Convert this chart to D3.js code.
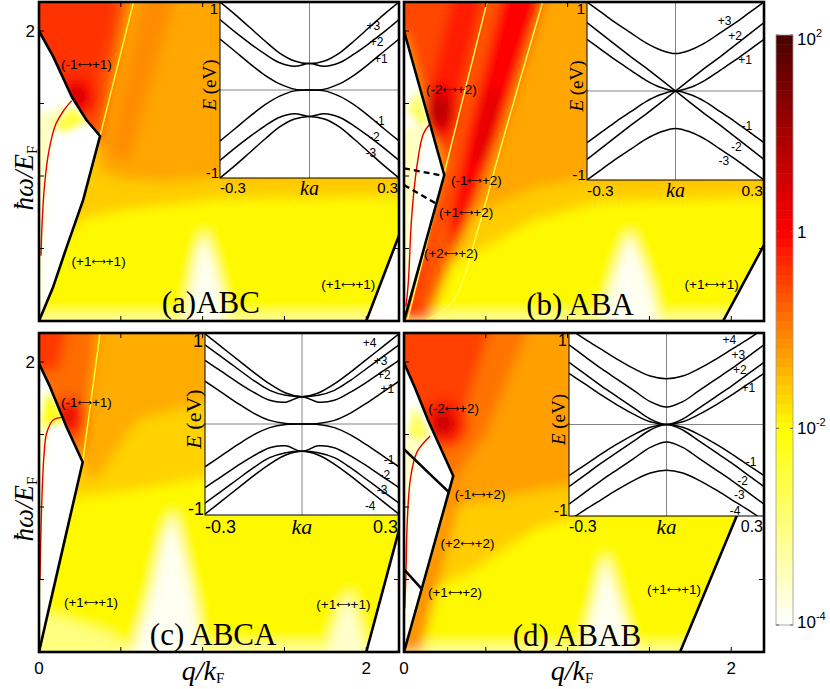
<!DOCTYPE html>
<html>
<head>
<meta charset="utf-8">
<script src="https://cdn.jsdelivr.net/npm/d3@7"></script>
<style>
  body { margin: 0; background: #fff; }
  svg { display: block; }
</style>
</head>
<body>
<svg id="chart"></svg>
<script>
// ---------------- axes / ticks ----------------
const qTicks = [0.5, 1, 1.5, 2];
const wTicks = [0.5, 1, 1.5, 2];
const kaNodes = [0, 0.05, 0.1, 0.15, 0.2, 0.25, 0.3];
const cbTicks = [-4, -2, 0, 2];
const panelNames = ['(a)ABC', '(b) ABA', '(c) ABCA', '(d) ABAB'];
const panelNameAt = [[1.05, 0.055], [1.076, 0.04], [1.064, 0.05], [1.057, 0.04]];

// ---------------- insets: conduction bands +1,+2,... (E in eV at kaNodes) ----------------
const bandsABC = [
  [0, 0.01, 0.07, 0.17, 0.30, 0.44, 0.58],
  [0.30, 0.27, 0.31, 0.41, 0.53, 0.66, 0.80],
  [0.30, 0.33, 0.42, 0.56, 0.71, 0.86, 1.00]
];
const bandsABA = [
  [0, 0.04, 0.12, 0.23, 0.34, 0.46, 0.58],
  [0, 0.13, 0.26, 0.38, 0.51, 0.64, 0.77],
  [0.42, 0.46, 0.54, 0.65, 0.76, 0.88, 1.00]
];
const bandsABCA = [
  [0, 0.005, 0.04, 0.12, 0.23, 0.35, 0.47],
  [0.30, 0.24, 0.26, 0.35, 0.46, 0.58, 0.70],
  [0.30, 0.315, 0.37, 0.48, 0.61, 0.74, 0.87],
  [0.30, 0.34, 0.44, 0.57, 0.71, 0.85, 0.99]
];
const bandsABAB = [
  [0, 0.03, 0.11, 0.21, 0.32, 0.44, 0.56],
  [0, 0.06, 0.18, 0.30, 0.42, 0.55, 0.68],
  [0.19, 0.25, 0.37, 0.49, 0.61, 0.74, 0.87],
  [0.50, 0.53, 0.61, 0.71, 0.82, 0.93, 1.05]
];
const straightABA = [1];   // the monolayer-like cone

const bandLabelsABC = [['+3', 0.214, 0.73], ['+2', 0.225, 0.55], ['+1', 0.239, 0.35],
  ['-1', 0.234, -0.345], ['-2', 0.217, -0.535], ['-3', 0.206, -0.71]];
const bandLabelsABA = [['+3', 0.166, 0.785], ['+2', 0.202, 0.615], ['+1', 0.236, 0.35],
  ['-1', 0.242, -0.39], ['-2', 0.206, -0.63], ['-3', 0.164, -0.78]];
const bandLabelsABCA = [['+4', 0.209, 0.89], ['+3', 0.243, 0.69], ['+2', 0.253, 0.54], ['+1', 0.264, 0.39],
  ['-1', 0.269, -0.395], ['-2', 0.256, -0.56], ['-3', 0.248, -0.725], ['-4', 0.211, -0.9]];
const bandLabelsABAB = [['+4', 0.193, 0.93], ['+3', 0.221, 0.76], ['+2', 0.226, 0.60], ['+1', 0.252, 0.40],
  ['-1', 0.26, -0.41], ['-2', 0.234, -0.61], ['-3', 0.224, -0.77], ['-4', 0.211, -0.94]];

// ---------------- loss maps: regions [log10 value, polygon in (q/kF, hw/EF)] ----------------
const fieldABC = [
  [-1.95, [[-0.3, -0.3], [2.5, -0.3], [2.5, 2.5], [-0.3, 2.5]]],
  [-3.2, [[-0.3, -0.3], [2.5, -0.3], [2.5, 0.05], [-0.3, 0.05]]],
  [-3.9, [[0.88, -0.3], [1.16, -0.3], [1.12, 0.2], [1.06, 0.45], [1.01, 0.62], [0.96, 0.45], [0.92, 0.2]]],
  [-1.6, [[-0.3, 0.2], [0.3, 0.72], [0.6, 0.78], [1.1, 0.84], [2.5, 0.86], [2.5, 2.5], [-0.3, 2.5]]],
  [-1.3, [[0.36, 1.05], [0.5, 0.98], [0.8, 0.96], [1.1, 1.0], [2.5, 1.02], [2.5, 2.5], [0.45, 2.5]]],
  [-1.1, [[0.42, 1.15], [0.55, 1.1], [0.9, 2.5], [0.68, 2.5]]],
  [-0.6, [[-0.3, 1.3], [0.2, 1.35], [0.373, 1.2], [0.6, 2.5], [-0.3, 2.5]]],
  [-0.4, [[-0.3, 1.7], [0.15, 1.6], [0.3, 1.45], [0.45, 2.0], [0.5, 2.5], [-0.3, 2.5]]]
];
const blobsABC = [[0.24, 1.55, 0.12, 0.14, -0.1], [0.23, 1.55, 0.06, 0.08, 0.5]];
const streaksABC = [[-2.4, [[0.373, 1.276], [0.6, 2.3]]]];

const fieldABA = [
  [-1.95, [[-0.3, -0.3], [2.5, -0.3], [2.5, 2.5], [-0.3, 2.5]]],
  [-3.2, [[-0.3, -0.3], [2.5, -0.3], [2.5, 0.05], [-0.3, 0.05]]],
  [-3.9, [[1.16, -0.3], [1.6, -0.3], [1.52, 0.2], [1.44, 0.45], [1.38, 0.62], [1.32, 0.45], [1.25, 0.2]]],
  [-1.6, [[-0.3, 0.1], [0.4, 0.45], [0.8, 0.7], [1.2, 0.82], [2.5, 0.86], [2.5, 2.5], [-0.3, 2.5]]],
  [-1.3, [[-0.3, 0.4], [0.45, 0.75], [0.8, 0.92], [1.1, 0.98], [2.5, 1.0], [2.5, 2.5], [-0.3, 2.5]]],
  [-0.7, [[0.02, 0], [0.15, 0], [0.3, 0.45], [0.4, 0.7], [0.59, 1.29], [0.85, 2.21], [0.9, 2.5], [0.53, 2.5]]],
  [-0.55, [[-0.3, 1.5], [0.0, 2.0], [0.15, 1.4], [0.26, 1.05], [0.55, 2.5], [-0.3, 2.5]]],
  [-0.35, [[-0.05, 0], [0.24, 1.0], [0.28, 1.05], [0.06, 0]]],
  [-0.2, [[0.12, 1.45], [0.24, 1.15], [0.3, 1.35], [0.55, 2.5], [0.35, 2.5]]],
  [0.0, [[0.27, 0.7], [0.38, 1.29], [0.59, 2.21], [0.61, 2.5], [0.88, 2.5], [0.85, 2.21], [0.59, 1.29], [0.4, 0.7], [0.3, 0.45]]],
  [0.35, [[0.42, 1.1], [0.5, 1.1], [0.6, 1.6], [0.52, 1.6]]]
];
const blobsABA = [[0.22, 1.45, 0.11, 0.2, 0.15], [0.22, 1.45, 0.06, 0.11, 0.8]];
const streaksABA = [
  [-2.7, [[0.02, 0], [0.53, 2.3]]],
  [-2.7, [[0.13, 0], [0.3, 0.14], [0.444, 0.6], [0.587, 1.18], [0.85, 2.21], [0.875, 2.3]]]
];

const fieldABCA = [
  [-1.95, [[-0.3, -0.3], [2.5, -0.3], [2.5, 2.5], [-0.3, 2.5]]],
  [-3.2, [[-0.3, -0.3], [2.5, -0.3], [2.5, 0.06], [-0.3, 0.06]]],
  [-3.0, [[-0.3, -0.3], [0.55, -0.3], [0.45, 0.12], [0.1, 0.25], [-0.3, 0.3]]],
  [-3.9, [[0.56, -0.3], [1.02, -0.3], [0.96, 0.3], [0.88, 0.7], [0.82, 0.97], [0.76, 0.8], [0.68, 0.4], [0.6, 0.1]]],
  [-3.6, [[1.74, -0.3], [2.0, -0.3], [1.97, 0.15], [1.9, 0.42], [1.84, 0.3], [1.78, 0.1]]],
  [-1.65, [[-0.3, 1.0], [0.5, 1.1], [1.0, 1.2], [2.5, 1.25], [2.5, 2.5], [-0.3, 2.5]]],
  [-1.35, [[0.267, 1.2], [0.36, 1.2], [0.6, 1.6], [1.0, 1.72], [2.5, 1.8], [2.5, 2.5], [0.3, 2.5]]],
  [-0.85, [[-0.3, 1.4], [0.15, 1.45], [0.267, 1.31], [0.38, 2.5], [-0.3, 2.5]]],
  [-0.45, [[-0.3, 1.9], [0.12, 1.95], [0.22, 2.5], [-0.3, 2.5]]]
];
const blobsABCA = [[0.19, 1.62, 0.1, 0.14, -0.3], [0.18, 1.63, 0.05, 0.07, 0.35]];
const streaksABCA = [[-2.4, [[0.267, 1.31], [0.385, 2.3]]]];

const fieldABAB = [
  [-1.95, [[-0.3, -0.3], [2.5, -0.3], [2.5, 2.5], [-0.3, 2.5]]],
  [-3.2, [[-0.3, -0.3], [2.5, -0.3], [2.5, 0.05], [-0.3, 0.05]]],
  [-3.9, [[1.06, -0.3], [1.44, -0.3], [1.41, 0.0], [1.23, 0.68], [1.086, 0.0]]],
  [-1.6, [[-0.3, 0.2], [0.4, 0.55], [0.8, 0.85], [1.2, 0.98], [2.5, 1.0], [2.5, 2.5], [-0.3, 2.5]]],
  [-1.25, [[-0.3, 0.9], [0.5, 1.05], [1.0, 1.15], [2.5, 1.2], [2.5, 2.5], [-0.3, 2.5]]],
  [-0.9, [[-0.3, 1.2], [0.31, 1.2], [0.5, 1.5], [0.85, 2.5], [-0.3, 2.5]]],
  [-0.5, [[-0.3, 1.65], [0.15, 1.6], [0.3, 1.4], [0.6, 2.5], [-0.3, 2.5]]],
  [-1.1, [[-0.05, 0.0], [0.3, 1.2], [0.36, 1.15], [0.1, 0.0]]]
];
const blobsABAB = [[0.25, 1.58, 0.14, 0.17, -0.2], [0.24, 1.58, 0.07, 0.09, 0.55]];
const streaksABAB = [];

// ---------------- boundaries of the empty (zero-loss) regions ----------------
const edgesABC = [
  [[0, 2.0], [0.087, 1.823], [0.2, 1.547], [0.29, 1.386], [0.373, 1.276], [0.27, 0.835], [0.17, 0.513], [0.087, 0.237], [0, 0]],
  [[2.0, 0], [2.2, 0.59], [2.4, 1.19]]
];
const edgesABA = [
  [[0, 2.0], [0.246, 1.007], [0, 0]],
  [[1.95, 0], [2.2, 0.524], [2.4, 0.944]]
];
const edgesABCA = [
  [[0, 1.99], [0.067, 1.83], [0.169, 1.55], [0.267, 1.31], [0.169, 0.83], [0.067, 0.33], [0, 0]],
  [[2.0, 0], [2.2, 0.84], [2.4, 1.68]]
];
const edgesABAB = [
  [[0, 1.995], [0.067, 1.823], [0.149, 1.593], [0.301, 1.214], [0.149, 0.6], [0, 0]],
  [[1.687, 0], [2.03, 0.93], [2.4, 1.93]],
  [[0, 1.398], [0.149, 1.237], [0.271, 1.106]],
  [[0, 0.57], [0.108, 0.435]]
];
const dashesABA = [[[0, 1.053], [0.246, 1.0]], [[0, 0.938], [0.2, 0.807]]];

// plasmon branches
const plasmonABC = [[0.012, 0.45], [0.02, 0.7], [0.035, 0.95], [0.06, 1.17], [0.1, 1.35], [0.15, 1.45], [0.2, 1.52]];
const plasmonABA = [[0.012, 0.1], [0.026, 0.26], [0.047, 0.72], [0.078, 1.06], [0.118, 1.29], [0.159, 1.36]];
const plasmonABCA = [[0.006, 0.5], [0.016, 1.0], [0.03, 1.35], [0.047, 1.51], [0.087, 1.6], [0.149, 1.62]];
const plasmonABAB = [[0.005, 0.3], [0.012, 0.55], [0.02, 0.9], [0.04, 1.2], [0.08, 1.38], [0.16, 1.49]];

// weak loss inside the empty wedge
const glowABC = [
  [-3.5, [[-0.3, -0.1], [0, -0.1], [0.02, 0.45], [0.035, 0.95], [0.06, 1.17], [0.1, 1.35], [0.2, 1.52], [0.08, 1.45], [-0.3, 1.35]]],
  [-2.5, [[0.08, 1.35], [0.2, 1.48], [0.3, 1.38], [0.15, 1.3]]]
];
const glowABA = [
  [-3.5, [[-0.3, -0.1], [0.005, -0.1], [0.026, 0.26], [0.047, 0.72], [0.078, 1.06], [0.118, 1.29], [0.159, 1.36], [0.06, 1.35], [-0.3, 1.2]]],
  [-2.8, [[0.02, 1.45], [0.1, 1.35], [0.16, 1.36], [0.08, 1.6]]]
];
const glowABCA = [
  [-3.5, [[-0.3, -0.1], [0, -0.1], [0.006, 0.5], [0.016, 1.0], [0.03, 1.35], [0.047, 1.51], [0.087, 1.6], [0.149, 1.62], [0.05, 1.65], [-0.3, 1.6]]],
  [-2.2, [[0.0, 1.55], [0.1, 1.57], [0.17, 1.6], [0.05, 1.8]]]
];
const glowABAB = [
  [-3.5, [[-0.3, -0.1], [0, -0.1], [0.005, 0.3], [0.012, 0.55], [0.02, 0.9], [0.04, 1.2], [0.08, 1.38], [0.16, 1.49], [0.05, 1.45], [-0.3, 1.4]]],
  [-2.7, [[0.02, 1.48], [0.1, 1.46], [0.16, 1.5], [0.06, 1.7]]]
];

// transition labels [left band, right band, q, w]
const transABC = [['(-1', '+1)', 0.29, 1.77], ['(+1', '+1)', 0.364, 0.414], ['(+1', '+1)', 1.89, 0.255]];
const transABA = [['(-2', '+2)', 0.29, 1.6], ['(-1', '+2)', 0.443, 0.97], ['(+1', '+2)', 0.38, 0.75],
  ['(+2', '+2)', 0.287, 0.47], ['(+1', '+1)', 1.88, 0.255]];
const transABCA = [['(-1', '+1)', 0.29, 1.72], ['(+1', '+1)', 0.318, 0.34], ['(+1', '+1)', 1.86, 0.33]];
const transABAB = [['(-2', '+2)', 0.303, 1.68], ['(-1', '+2)', 0.465, 1.09], ['(+2', '+2)', 0.388, 0.75],
  ['(+1', '+2)', 0.312, 0.41], ['(+1', '+1)', 1.65, 0.434]];

// ---------------- drawing ----------------
const W = 830, H = 689;
const serif = '"Liberation Serif", "Times New Roman", serif';
const sans = '"Liberation Sans", Arial, sans-serif';

const svg = d3.select('#chart').attr('width', W).attr('height', H);
const defs = svg.append('defs');
const addBlur = (id, s) => defs.append('filter').attr('id', id)
  .attr('filterUnits', 'userSpaceOnUse').attr('x', -50).attr('y', -50).attr('width', W + 100).attr('height', H + 100)
  .append('feGaussianBlur').attr('stdDeviation', s);
addBlur('soft', 6);
addBlur('glow', 3.5);
addBlur('thin', 0.6);

const cmap = d3.scaleLinear().domain([-4, -2, 0, 2])
  .range(['#ffffff', '#ffff00', '#ff0000', '#4a0000']).clamp(true);

const panels = [
  { left: 39, top: 2, bottom: 321, field: fieldABC, blobs: blobsABC, streaks: streaksABC, edges: edgesABC, dashes: [],
    plasmon: plasmonABC, glow: glowABC, trans: transABC,
    inset: { left: 220, bottom: 178, bands: bandsABC, straight: [], labels: bandLabelsABC, tick: 15, efont: 19, kfont: 20 } },
  { left: 404, top: 2, bottom: 321, field: fieldABA, blobs: blobsABA, streaks: streaksABA, edges: edgesABA, dashes: dashesABA,
    plasmon: plasmonABA, glow: glowABA, trans: transABA,
    inset: { left: 587, bottom: 180, bands: bandsABA, straight: straightABA, labels: bandLabelsABA, tick: 15.5, efont: 19, kfont: 20 } },
  { left: 39, top: 333, bottom: 652, field: fieldABCA, blobs: blobsABCA, streaks: streaksABCA, edges: edgesABCA, dashes: [],
    plasmon: plasmonABCA, glow: glowABCA, trans: transABCA,
    inset: { left: 205, bottom: 515, bands: bandsABCA, straight: [], labels: bandLabelsABCA, tick: 18, efont: 22, kfont: 22 } },
  { left: 404, top: 333, bottom: 652, field: fieldABAB, blobs: blobsABAB, streaks: streaksABAB, edges: edgesABAB, dashes: [],
    plasmon: plasmonABAB, glow: glowABAB, trans: transABAB,
    inset: { left: 569, bottom: 516, bands: bandsABAB, straight: [], labels: bandLabelsABAB, tick: 16, efont: 19, kfont: 21 } }
];

panels.forEach((p, i) => {
  const right = p.left + 360;
  const x = d3.scaleLinear().domain([0, 2.2]).range([p.left, right]);
  const y = d3.scaleLinear().domain([0, 2.2]).range([p.bottom, p.top]);
  const poly = d3.line().x(d => x(d[0])).y(d => y(d[1]));
  const smooth = d3.line().x(d => x(d[0])).y(d => y(d[1])).curve(d3.curveCatmullRom);

  defs.append('clipPath').attr('id', 'pc' + i).append('rect')
    .attr('x', p.left).attr('y', p.top).attr('width', 360).attr('height', p.bottom - p.top);
  const g = svg.append('g').attr('clip-path', `url(#pc${i})`);

  // smooth colour field
  const soft = g.append('g').attr('filter', 'url(#soft)');
  p.field.forEach(([v, pts]) => soft.append('path').attr('d', poly(pts) + 'Z').attr('fill', cmap(v)));
  p.blobs.forEach(([cx, cy, rx, ry, v]) => soft.append('ellipse')
    .attr('cx', x(cx)).attr('cy', y(cy))
    .attr('rx', x(rx) - x(0)).attr('ry', y(0) - y(ry))
    .attr('fill', cmap(v)));

  // thin pale ridges
  p.streaks.forEach(([v, pts]) => g.append('path').attr('d', smooth(pts))
    .attr('fill', 'none').attr('stroke', cmap(v)).attr('stroke-width', 1.4).attr('filter', 'url(#thin)'));

  // empty regions
  const wedge = p.edges[0].concat([[-0.3, -0.3], [-0.3, 2.0]]);
  const e1 = p.edges[1];
  const rightVoid = e1.concat([[2.5, e1[e1.length - 1][1]], [2.5, -0.3], [e1[0][0], -0.3]]);
  g.append('path').attr('d', poly(rightVoid) + 'Z').attr('fill', '#fff');
  g.append('path').attr('d', poly(wedge) + 'Z').attr('fill', '#fff');

  defs.append('clipPath').attr('id', 'vc' + i).append('path').attr('d', poly(wedge) + 'Z');
  const gw = g.append('g').attr('clip-path', `url(#vc${i})`).append('g').attr('filter', 'url(#glow)');
  p.glow.forEach(([v, pts]) => gw.append('path').attr('d', poly(pts) + 'Z').attr('fill', cmap(v)));

  // plasmon
  g.append('path').attr('d', smooth(p.plasmon)).attr('fill', 'none')
    .attr('stroke', '#e40000').attr('stroke-width', 1.4);

  // boundaries
  p.edges.forEach(pts => g.append('path').attr('d', poly(pts)).attr('fill', 'none')
    .attr('stroke', '#000').attr('stroke-width', 2.6).attr('stroke-linejoin', 'round').attr('stroke-linecap', 'round'));
  p.dashes.forEach(pts => g.append('path').attr('d', poly(pts)).attr('fill', 'none')
    .attr('stroke', '#000').attr('stroke-width', 2.4).attr('stroke-dasharray', '6 4'));

  // transition labels
  p.trans.forEach(([a, b, q, w]) => {
    const t = svg.append('text').attr('x', x(q)).attr('y', y(w)).attr('dy', '0.35em').attr('text-anchor', 'middle')
      .style('font-family', sans).style('font-size', '13.5px');
    t.append('tspan').text(a);
    t.append('tspan').attr('dy', -1).style('font-family', '"DejaVu Sans", sans-serif').style('font-size', '10px').text('⟷');
    t.append('tspan').attr('dy', 1).text(b);
  });

  // panel name
  svg.append('text').attr('x', x(panelNameAt[i][0])).attr('y', y(panelNameAt[i][1]))
    .attr('text-anchor', 'middle').style('font-family', serif).style('font-size', '31px')
    .text(panelNames[i]);

  // ticks on all four sides
  const tk = svg.append('g').attr('stroke', '#000').attr('stroke-width', 1);
  qTicks.forEach(t => {
    tk.append('line').attr('x1', x(t)).attr('x2', x(t)).attr('y1', p.bottom).attr('y2', p.bottom - 5);
    tk.append('line').attr('x1', x(t)).attr('x2', x(t)).attr('y1', p.top).attr('y2', p.top + 5);
  });
  wTicks.forEach(t => {
    tk.append('line').attr('x1', p.left).attr('x2', p.left + 5).attr('y1', y(t)).attr('y2', y(t));
    tk.append('line').attr('x1', right).attr('x2', right - 5).attr('y1', y(t)).attr('y2', y(t));
  });

  // ---- inset: band structure ----
  const ins = p.inset;
  const ix = d3.scaleLinear().domain([-0.3, 0.3]).range([ins.left, right]);
  const iy = d3.scaleLinear().domain([-1, 1]).range([ins.bottom, p.top]);
  const ig = svg.append('g');
  ig.append('rect').attr('x', ins.left).attr('y', p.top).attr('width', right - ins.left)
    .attr('height', ins.bottom - p.top).attr('fill', '#fff');
  ig.append('line').attr('x1', ix(0)).attr('x2', ix(0)).attr('y1', iy(-1)).attr('y2', iy(1))
    .attr('stroke', '#777').attr('stroke-width', 0.9);
  ig.append('line').attr('x1', ix(-0.3)).attr('x2', ix(0.3)).attr('y1', iy(0)).attr('y2', iy(0))
    .attr('stroke', '#777').attr('stroke-width', 0.9);

  defs.append('clipPath').attr('id', 'ic' + i).append('rect')
    .attr('x', ins.left).attr('y', p.top).attr('width', right - ins.left).attr('height', ins.bottom - p.top);
  const bg = ig.append('g').attr('clip-path', `url(#ic${i})`);
  const curved = d3.line().x(d => ix(d[0])).y(d => iy(d[1])).curve(d3.curveCatmullRom);
  const straight = d3.line().x(d => ix(d[0])).y(d => iy(d[1]));
  ins.bands.forEach((E, b) => {
    const half = kaNodes.map((k, j) => [k, E[j]]);
    const full = half.slice(1).reverse().map(([k, e]) => [-k, e]).concat(half);
    const gen = ins.straight.includes(b) ? straight : curved;
    [1, -1].forEach(s => bg.append('path').attr('d', gen(full.map(([k, e]) => [k, s * e])))
      .attr('fill', 'none').attr('stroke', '#000').attr('stroke-width', 1.5));
  });
  ins.labels.forEach(([t, k, e]) => ig.append('text').attr('x', ix(k)).attr('y', iy(e)).attr('dy', '0.35em')
    .attr('text-anchor', 'middle').style('font-family', sans).style('font-size', '12px').text(t));
  ig.append('rect').attr('x', ins.left).attr('y', p.top).attr('width', right - ins.left)
    .attr('height', ins.bottom - p.top).attr('fill', 'none').attr('stroke', '#000').attr('stroke-width', 1);

  // inset tick labels
  const fs = ins.tick + 'px';
  ig.append('text').attr('x', ins.left - 2).attr('y', p.top + ins.tick * 0.8).attr('text-anchor', 'end')
    .style('font-family', sans).style('font-size', fs).text('1');
  ig.append('text').attr('x', ins.left - 1).attr('y', ins.bottom).attr('text-anchor', 'end')
    .style('font-family', sans).style('font-size', fs).text('-1');
  ig.append('text').attr('x', ins.left).attr('y', ins.bottom + ins.tick).attr('text-anchor', 'start')
    .style('font-family', sans).style('font-size', fs).text('-0.3');
  ig.append('text').attr('x', right - 1).attr('y', ins.bottom + ins.tick).attr('text-anchor', 'end')
    .style('font-family', sans).style('font-size', fs).text('0.3');
  ig.append('text').attr('x', ix(0)).attr('y', ins.bottom + ins.kfont * 0.85).attr('text-anchor', 'middle')
    .style('font-family', serif).style('font-style', 'italic').style('font-size', ins.kfont + 'px').text('ka');
  const el = ig.append('text')
    .attr('transform', `translate(${ins.left - 4},${(p.top + ins.bottom) / 2 - 5}) rotate(-90)`)
    .attr('text-anchor', 'middle').style('font-family', serif).style('font-size', ins.efont + 'px');
  el.append('tspan').style('font-style', 'italic').text('E');
  el.append('tspan').text(' (eV)');

  // frame
  svg.append('rect').attr('x', p.left).attr('y', p.top).attr('width', 360).attr('height', p.bottom - p.top)
    .attr('fill', 'none').attr('stroke', '#000').attr('stroke-width', 2.6);

  // axis numbers
  if (i % 2 === 0) {
    svg.append('text').attr('x', 35).attr('y', y(2) + 6).attr('text-anchor', 'end')
      .style('font-family', sans).style('font-size', '17px').text('2');
  }
  if (i >= 2) {
    [0, 2].forEach(t => svg.append('text').attr('x', x(t)).attr('y', 674).attr('text-anchor', 'middle')
      .style('font-family', sans).style('font-size', '17px').text(t));
  }
});

// axis titles
[178, 509].forEach(yc => {
  const t = svg.append('text').attr('transform', `translate(33,${yc}) rotate(-90)`)
    .attr('text-anchor', 'middle').style('font-family', serif).style('font-size', '27px');
  t.append('tspan').style('font-style', 'italic').text('ħω/E');
  t.append('tspan').attr('dy', 4).style('font-size', '15px').text('F');
});
[203, 572].forEach(xc => {
  const t = svg.append('text').attr('x', xc).attr('y', 680)
    .attr('text-anchor', 'middle').style('font-family', serif).style('font-size', '28px');
  t.append('tspan').style('font-style', 'italic').text('q/k');
  t.append('tspan').attr('dy', 3).style('font-size', '15px').text('F');
});

// ---------------- colour bar ----------------
const cbY = d3.scaleLinear().domain([-4, 2]).range([625, 35]);
const cb = svg.append('g');
const nLevels = 64;
d3.range(nLevels).forEach(s => {
  const v0 = -4 + 6 * s / nLevels, v1 = -4 + 6 * (s + 1) / nLevels;
  cb.append('rect').attr('x', 776).attr('width', 17).attr('y', cbY(v1)).attr('height', cbY(v0) - cbY(v1) + 0.5)
    .attr('fill', cmap((v0 + v1) / 2));
});
cb.append('rect').attr('x', 776).attr('y', 35).attr('width', 17).attr('height', 590)
  .attr('fill', 'none').attr('stroke', '#999').attr('stroke-width', 0.8);
cbTicks.forEach(v => {
  cb.append('line').attr('x1', 776).attr('x2', 779).attr('y1', cbY(v)).attr('y2', cbY(v)).attr('stroke', '#666');
  cb.append('line').attr('x1', 790).attr('x2', 793).attr('y1', cbY(v)).attr('y2', cbY(v)).attr('stroke', '#666');
  const t = cb.append('text').attr('x', 797).attr('y', cbY(v) + 6 + (v === 2 ? 4 : 0) - (v === -4 ? 3 : 0))
    .style('font-family', sans).style('font-size', '17px');
  if (v === 0) { t.text('1'); return; }
  t.append('tspan').text('10');
  t.append('tspan').attr('dy', -8).style('font-size', '11px').text(v);
});
</script>
</body>
</html>
